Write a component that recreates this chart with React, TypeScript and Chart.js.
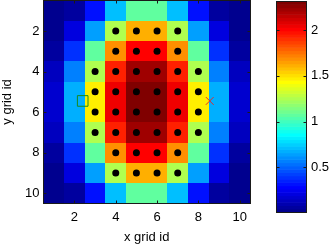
import React, { useEffect, useRef } from 'react';
import { Chart, registerables } from 'chart.js';

Chart.register(...registerables);

// ---- data ----
const xCategories = [1, 2, 3, 4, 5, 6, 7, 8, 9, 10];
const yCategories = [1, 2, 3, 4, 5, 6, 7, 8, 9, 10];

const row1 = [0.01, 0.06, 0.32, 0.71, 1.08, 1.08, 0.71, 0.32, 0.06, 0.01];
const row2 = [0.03, 0.21, 0.64, 1.26, 1.62, 1.62, 1.26, 0.64, 0.21, 0.03];
const row3 = [0.06, 0.39, 1.08, 1.69, 2.01, 2.01, 1.69, 1.08, 0.39, 0.06];
const row4 = [0.14, 0.57, 1.26, 1.94, 2.23, 2.23, 1.94, 1.26, 0.57, 0.14];
const row5 = [0.18, 0.68, 1.47, 2.05, 2.32, 2.32, 2.05, 1.47, 0.68, 0.18];
const row6 = [0.18, 0.68, 1.47, 2.05, 2.32, 2.32, 2.05, 1.47, 0.68, 0.18];
const row7 = [0.14, 0.57, 1.26, 1.94, 2.23, 2.23, 1.94, 1.26, 0.57, 0.14];
const row8 = [0.06, 0.39, 1.08, 1.69, 2.01, 2.01, 1.69, 1.08, 0.39, 0.06];
const row9 = [0.03, 0.21, 0.64, 1.26, 1.62, 1.62, 1.26, 0.64, 0.21, 0.03];
const row10 = [0.01, 0.06, 0.32, 0.71, 1.08, 1.08, 0.71, 0.32, 0.06, 0.01];
const gridValues = [row1, row2, row3, row4, row5, row6, row7, row8, row9, row10];

const dotPoints: [number, number][] = [
  [4, 2], [5, 2], [6, 2], [7, 2],
  [4, 3], [5, 3], [6, 3], [7, 3],
  [3, 4], [4, 4], [5, 4], [6, 4], [7, 4], [8, 4],
  [3, 5], [4, 5], [5, 5], [6, 5], [7, 5], [8, 5],
  [3, 6], [4, 6], [5, 6], [6, 6], [7, 6], [8, 6],
  [3, 7], [4, 7], [5, 7], [6, 7], [7, 7], [8, 7],
  [4, 8], [5, 8], [6, 8], [7, 8],
  [4, 9], [5, 9], [6, 9], [7, 9],
];
const squareMarker = { x: 2.4, y: 5.45 };
const crossMarker = { x: 8.55, y: 5.45 };

const xTickValues = [2, 4, 6, 8, 10];
const yTickValues = [2, 4, 6, 8, 10];
const colorbarTicks = [0.5, 1, 1.5, 2];
const colorMin = 0.01;
const colorMax = 2.32;

const xTitle = 'x grid id';
const yTitle = 'y grid id';

// ---- styling helpers ----
const FONT = { family: '"Liberation Sans", Arial, Helvetica, sans-serif', size: 13 };
const LEVELS = 64;

function jetByIndex(j: number): string {
  let r = 0, g = 0, b = 0;
  if (j <= 23) r = 0; else if (j <= 39) r = (j - 23) / 16; else if (j <= 54) r = 1; else r = 1 - (j - 55) / 16;
  if (j <= 7) g = 0; else if (j <= 23) g = (j - 7) / 16; else if (j <= 38) g = 1; else if (j <= 54) g = 1 - (j - 39) / 16; else g = 0;
  if (j <= 7) b = (j + 9) / 16; else if (j <= 22) b = 1; else if (j <= 38) b = 1 - (j - 23) / 16; else b = 0;
  return `rgb(${Math.round(r * 255)},${Math.round(g * 255)},${Math.round(b * 255)})`;
}
function jetColor(v: number): string {
  const t = (v - colorMin) / (colorMax - colorMin);
  const j = Math.min(LEVELS - 1, Math.max(0, Math.floor(t * LEVELS)));
  return jetByIndex(j);
}

const zeroPadding = (scale: any) => {
  scale.paddingTop = 0;
  scale.paddingBottom = 0;
  scale.paddingLeft = 0;
  scale.paddingRight = 0;
};

const AXIS_COLOR = '#1a1a1a';
const TICK_LEN = 3;

const heatmapPlugin = {
  id: 'heatmapCells',
  beforeDatasetsDraw(chart: any) {
    const { ctx, scales } = chart;
    const x = scales.x, y = scales.y;
    ctx.save();
    gridValues.forEach((row, ri) => {
      row.forEach((v, ci) => {
        const cx = xCategories[ci];
        const cy = yCategories[ri];
        const xa = Math.round(x.getPixelForValue(cx - 0.5));
        const xb = Math.round(x.getPixelForValue(cx + 0.5));
        const ya = Math.round(y.getPixelForValue(cy - 0.5));
        const yb = Math.round(y.getPixelForValue(cy + 0.5));
        ctx.fillStyle = jetColor(v);
        ctx.fillRect(Math.min(xa, xb), Math.min(ya, yb), Math.abs(xb - xa), Math.abs(yb - ya));
      });
    });
    ctx.restore();
  },
  afterDatasetsDraw(chart: any) {
    const { ctx, chartArea, scales } = chart;
    const L = Math.floor(chartArea.left) + 0.5;
    const R = Math.floor(chartArea.right) + 0.5;
    const T = Math.floor(chartArea.top) + 0.5;
    const B = Math.floor(chartArea.bottom) + 0.5;
    ctx.save();
    ctx.strokeStyle = AXIS_COLOR;
    ctx.lineWidth = 1;
    ctx.beginPath();
    xTickValues.forEach((v) => {
      const px = Math.round(scales.x.getPixelForValue(v)) + 0.5;
      ctx.moveTo(px, B); ctx.lineTo(px, B - TICK_LEN);
      ctx.moveTo(px, T); ctx.lineTo(px, T + TICK_LEN);
    });
    yTickValues.forEach((v) => {
      const py = Math.round(scales.y.getPixelForValue(v)) + 0.5;
      ctx.moveTo(L, py); ctx.lineTo(L + TICK_LEN, py);
      ctx.moveTo(R, py); ctx.lineTo(R - TICK_LEN, py);
    });
    ctx.stroke();
    ctx.strokeRect(L, T, R - L, B - T);
    ctx.restore();
  },
};

const colorbarPlugin = {
  id: 'colorbarBands',
  beforeDatasetsDraw(chart: any) {
    const { ctx, chartArea, scales } = chart;
    const y = scales.y;
    const span = (colorMax - colorMin) / LEVELS;
    ctx.save();
    for (let j = 0; j < LEVELS; j++) {
      const lo = colorMin + j * span;
      const hi = lo + span;
      const ya = y.getPixelForValue(hi);
      const yb = y.getPixelForValue(lo);
      ctx.fillStyle = jetByIndex(j);
      ctx.fillRect(chartArea.left, ya, chartArea.right - chartArea.left, yb - ya + 0.6);
    }
    ctx.restore();
  },
  afterDatasetsDraw(chart: any) {
    const { ctx, chartArea, scales } = chart;
    const L = Math.floor(chartArea.left) + 0.5;
    const R = Math.floor(chartArea.right) + 0.5;
    const T = Math.floor(chartArea.top) + 0.5;
    const B = Math.floor(chartArea.bottom) + 0.5;
    ctx.save();
    ctx.strokeStyle = AXIS_COLOR;
    ctx.lineWidth = 1;
    ctx.beginPath();
    colorbarTicks.forEach((v) => {
      const py = Math.round(scales.y.getPixelForValue(v)) + 0.5;
      ctx.moveTo(R, py); ctx.lineTo(R - TICK_LEN, py);
      ctx.moveTo(L, py); ctx.lineTo(L + TICK_LEN, py);
    });
    ctx.stroke();
    ctx.strokeRect(L, T, R - L, B - T);
    ctx.restore();
  },
};

export default function App() {
  const heatRef = useRef<HTMLCanvasElement>(null);
  const barRef = useRef<HTMLCanvasElement>(null);

  useEffect(() => {
    Chart.defaults.color = '#000';

    const heat = new Chart(heatRef.current as HTMLCanvasElement, {
      type: 'scatter',
      data: {
        datasets: [
          {
            data: dotPoints.map(([x, y]) => ({ x, y })),
            pointStyle: 'circle',
            pointRadius: 3.5,
            backgroundColor: '#000',
            borderWidth: 0,
          },
          {
            data: [squareMarker],
            pointStyle: 'rect',
            pointRadius: 7.5,
            backgroundColor: 'rgba(0,0,0,0)',
            borderColor: '#1a8a1a',
            borderWidth: 1,
          },
          {
            data: [crossMarker],
            pointStyle: 'crossRot',
            pointRadius: 5.5,
            borderColor: 'rgb(230,40,40)',
            borderWidth: 1,
          },
        ],
      } as any,
      options: {
        animation: false,
        responsive: false,
        devicePixelRatio: 1,
        events: [],
        layout: { autoPadding: false, padding: { left: 0, top: 0.5, right: 10, bottom: 0 } },
        plugins: { legend: { display: false }, tooltip: { enabled: false } },
        scales: {
          x: {
            type: 'linear',
            min: 0.5,
            max: 10.5,
            afterBuildTicks: (scale: any) => { scale.ticks = xTickValues.map((value) => ({ value })); },
            afterFit: zeroPadding,
            grid: { display: false, drawTicks: false },
            border: { display: false },
            ticks: { font: FONT, color: '#000', padding: 6.6, maxRotation: 0, autoSkip: false, callback: (v: any) => String(v) },
            title: { display: true, text: xTitle, font: FONT, color: '#000', padding: { top: -2.8, bottom: 0 } },
          },
          y: {
            type: 'linear',
            reverse: true,
            min: 0.5,
            max: 10.5,
            afterBuildTicks: (scale: any) => { scale.ticks = yTickValues.map((value) => ({ value })); },
            afterFit: zeroPadding,
            grid: { display: false, drawTicks: false },
            border: { display: false },
            ticks: { font: FONT, color: '#000', padding: 4, autoSkip: false, callback: (v: any) => String(v) },
            title: { display: true, text: yTitle, font: FONT, color: '#000', padding: { top: 0, bottom: 5.4 } },
          },
        },
      } as any,
      plugins: [heatmapPlugin],
    });

    const bar = new Chart(barRef.current as HTMLCanvasElement, {
      type: 'scatter',
      data: { datasets: [{ data: [] }] },
      options: {
        animation: false,
        responsive: false,
        devicePixelRatio: 1,
        events: [],
        layout: { autoPadding: false, padding: { left: 16, top: 1, right: 0, bottom: 33 } },
        plugins: { legend: { display: false }, tooltip: { enabled: false } },
        scales: {
          x: { display: false, min: 0, max: 1 },
          y: {
            type: 'linear',
            position: 'right',
            min: colorMin,
            max: colorMax,
            afterBuildTicks: (scale: any) => { scale.ticks = colorbarTicks.map((value) => ({ value })); },
            afterFit: zeroPadding,
            grid: { display: false, drawTicks: false },
            border: { display: false },
            ticks: { font: FONT, color: '#000', padding: 4, autoSkip: false, callback: (v: any) => String(v) },
          },
        },
      } as any,
      plugins: [colorbarPlugin],
    });

    return () => {
      heat.destroy();
      bar.destroy();
    };
  }, []);

  return (
    <div style={{ position: 'fixed', left: 0, top: 0, width: 333, height: 245, background: '#fff' }}>
      <canvas
        ref={heatRef}
        width={260}
        height={245}
        style={{ position: 'absolute', left: 0, top: 0, width: 260, height: 245 }}
      />
      <canvas
        ref={barRef}
        width={73}
        height={245}
        style={{ position: 'absolute', left: 260, top: 0, width: 73, height: 245 }}
      />
    </div>
  );
}
